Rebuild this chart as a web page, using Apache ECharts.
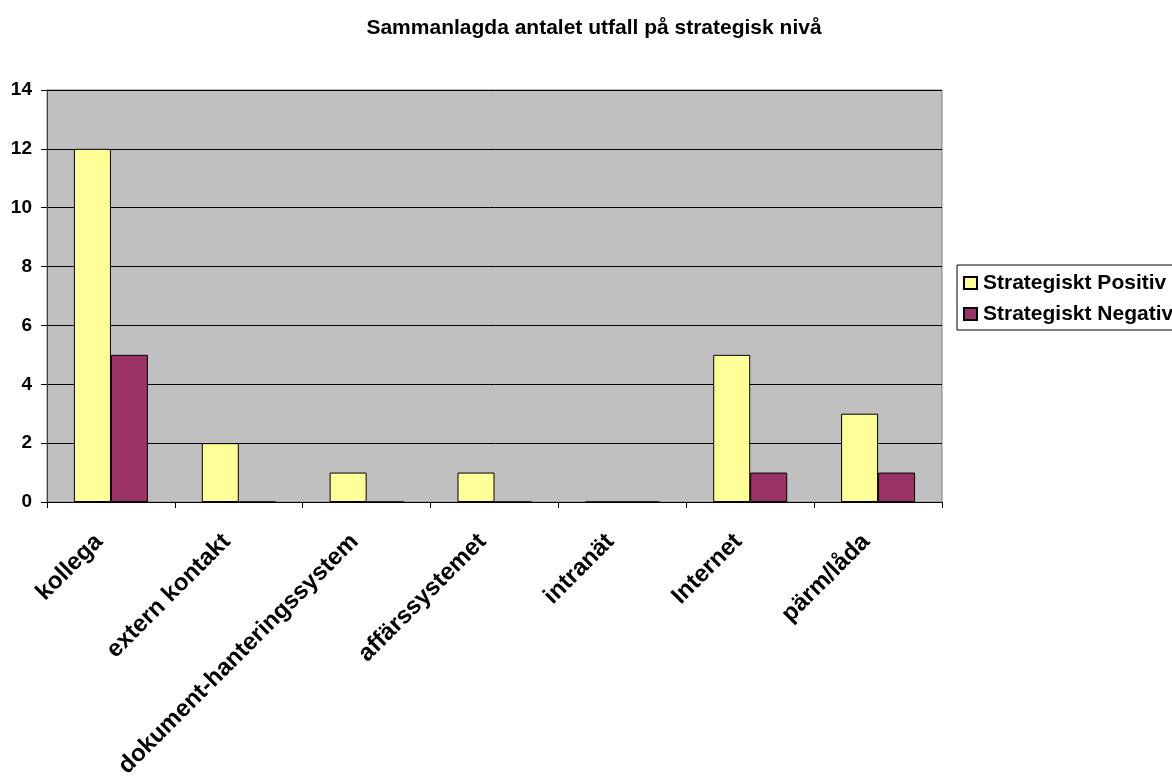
<!DOCTYPE html>
<html>
<head>
<meta charset="utf-8">
<script src="https://cdn.jsdelivr.net/npm/echarts@6/dist/echarts.min.js"></script>
<style>
html, body { margin: 0; padding: 0; background: #fff; }
#container { width: 1172px; height: 777px; }
</style>
</head>
<body>
<div id="container"></div>
<script>
// data
var categories = ['kollega', 'extern kontakt', 'dokument-hanteringssystem', 'affärssystemet', 'intranät', 'Internet', 'pärm/låda'];
var positiv = [12, 2, 1, 1, 0, 5, 3];
var negativ = [5, 0, 0, 0, 0, 1, 1];
var seriesNames = ['Strategiskt Positiv', 'Strategiskt Negativ'];

var dom = document.getElementById('container');
var myChart = echarts.init(dom);
var font = 'Arial, "Liberation Sans", sans-serif';

var option = {
    animation: false,
    title: {
        text: 'Sammanlagda antalet utfall på strategisk nivå',
        left: 589,
        top: 13,
        textAlign: 'center',
        textStyle: { fontFamily: font, fontSize: 21, fontWeight: 'bold', color: '#000' }
    },
    legend: {
        orient: 'vertical',
        left: 957,
        top: 265,
        padding: [6, 60, 4, 6],
        itemGap: 7,
        itemWidth: 13,
        itemHeight: 12,
        backgroundColor: '#fff',
        borderColor: '#000',
        borderWidth: 1,
        borderRadius: 0,
        icon: 'rect',
        data: seriesNames,
        textStyle: { fontFamily: font, fontSize: 21, fontWeight: 'bold', color: '#000', lineHeight: 24, padding: [0, 0, 0, 1] }
    },
    grid: {
        left: 47,
        right: 230,
        top: 90,
        bottom: 275,
        outerBoundsMode: 'none',
        containLabel: false,
        show: true,
        backgroundColor: '#C0C0C0',
        borderColor: '#808080',
        borderWidth: 1
    },
    xAxis: {
        type: 'category',
        data: categories,
        axisLine: { lineStyle: { color: '#000' } },
        axisTick: { show: true, length: 6, lineStyle: { color: '#000' } },
        axisLabel: {
            interval: 0,
            rotate: 45,
            margin: 24,
            padding: [0, 17, 0, 0],
            fontFamily: font,
            fontSize: 24,
            fontWeight: 'bold',
            color: '#000'
        }
    },
    yAxis: {
        type: 'value',
        min: 0,
        max: 14,
        interval: 2,
        axisLine: { show: true, lineStyle: { color: '#404040' } },
        axisTick: { show: true, length: 6, lineStyle: { color: '#000' } },
        splitLine: { lineStyle: { color: '#000', width: 1 } },
        axisLabel: {
            margin: 15,
            fontFamily: font,
            fontSize: 19,
            fontWeight: 'bold',
            color: '#000'
        }
    },
    series: [
        {
            name: seriesNames[0],
            type: 'bar',
            data: positiv,
            barWidth: 37,
            barGap: '0%',
            itemStyle: { color: '#FFFF99', borderColor: '#000', borderWidth: 1 }
        },
        {
            name: seriesNames[1],
            type: 'bar',
            data: negativ,
            barWidth: 37,
            barGap: '0%',
            itemStyle: { color: '#993366', borderColor: '#000', borderWidth: 1 }
        }
    ]
};
myChart.setOption(option, true);
</script>
</body>
</html>
